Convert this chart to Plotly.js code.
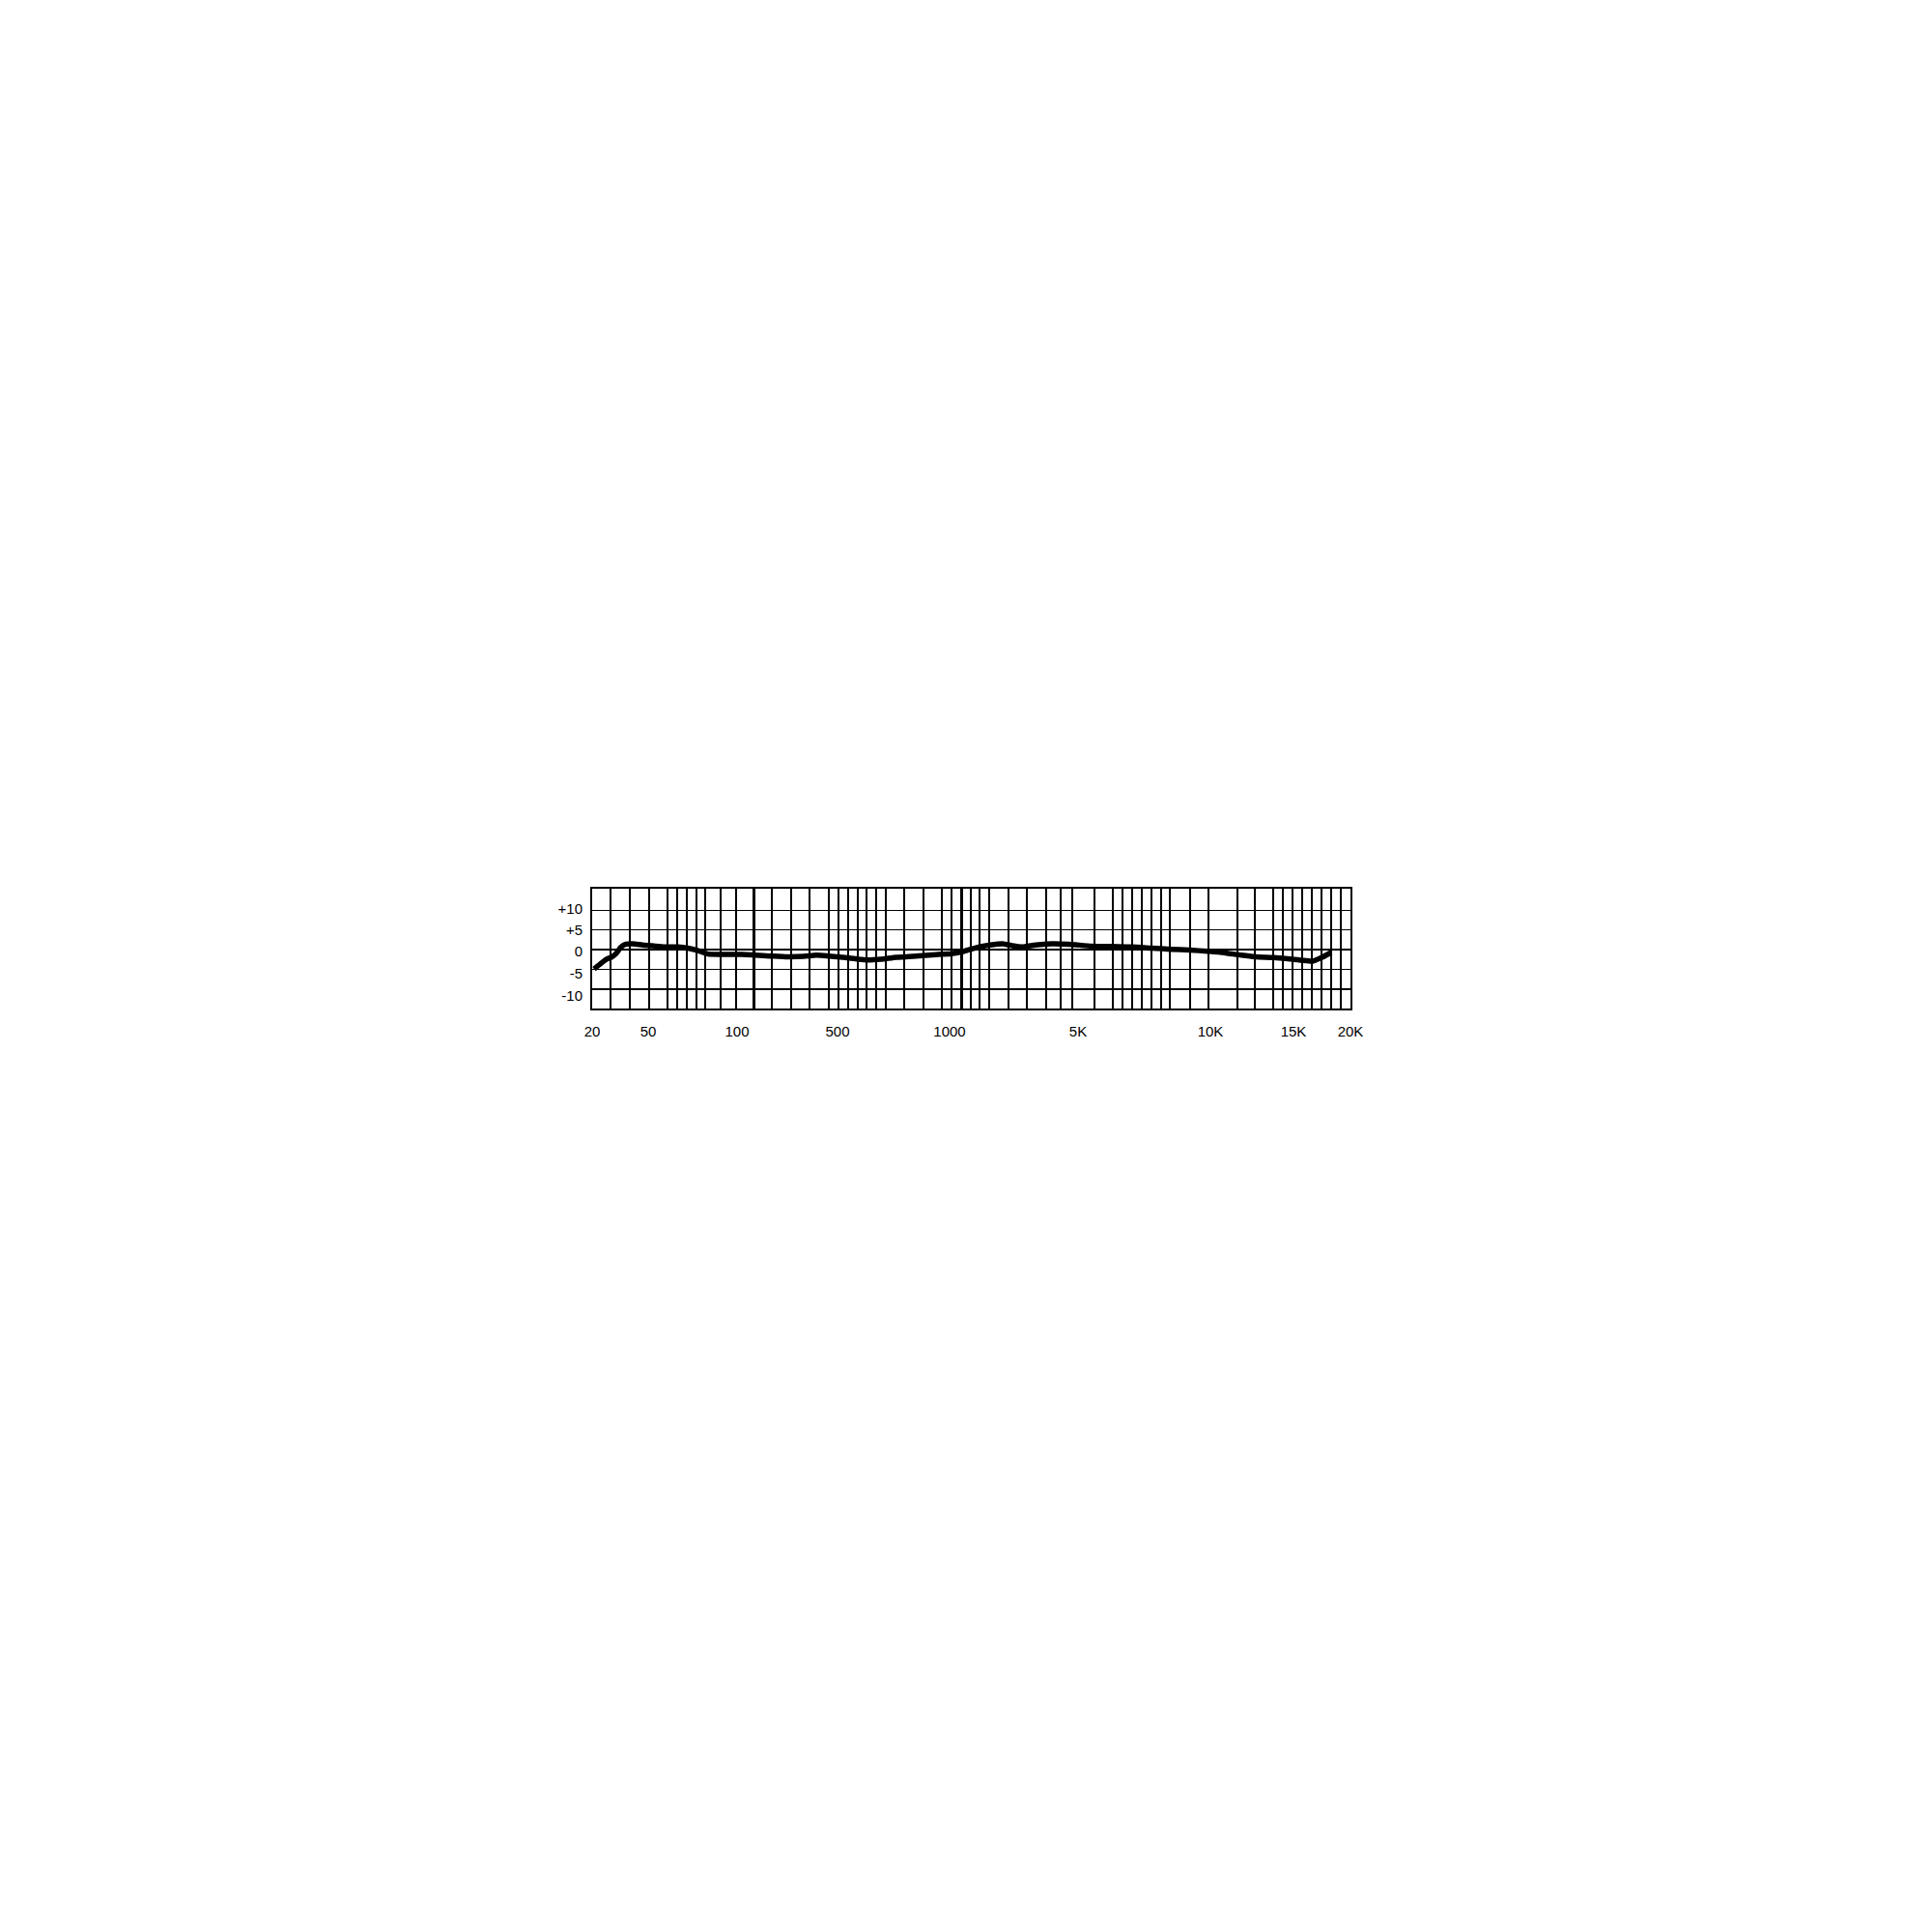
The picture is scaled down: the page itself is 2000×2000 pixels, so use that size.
<!DOCTYPE html>
<html>
<head>
<meta charset="utf-8">
<script src="https://cdn.plot.ly/plotly-3.0.1.min.js"></script>
<style>
  html, body { margin: 0; padding: 0; background: #fff; }
  #chart { width: 2000px; height: 2000px; }
</style>
</head>
<body>
<div id="chart"></div>
<script>
// frequency response, x in chart grid units (the printed grid is not a true log scale)
var freq_labels = ['20', '50', '100', '500', '1000', '5K', '10K', '15K', '20K'];
var freq_label_pos = [0, 58, 150, 254, 370, 503, 640, 726, 785];

// vertical rulings of the printed grid
var grid_x = [19, 39, 59, 78, 88, 98, 108, 117, 133, 149, 186, 206, 225, 245, 255, 265, 275, 284, 294, 304,
	323, 343, 362, 372, 392, 401, 411, 431, 450, 470, 485, 497, 520, 539, 549, 559, 569, 579, 589, 598,
	619, 638, 668, 686, 705, 715, 725, 735, 745, 755, 765, 775];
var grid_x_heavy = [167, 382];

var db_grid = [-10, -5, 0, 5, 10];
var db_labels = ['+10', '+5', '0', '-5', '-10'];
var db_label_pos = [10.4, 4.9, -0.4, -6.0, -11.6];

var response_x = [2, 9, 15, 20, 25, 30, 35, 42, 52, 62, 75, 89, 99, 109, 120, 132, 155, 185, 202, 219,
	232, 245, 262, 275, 285, 299, 315, 332, 352, 372, 385, 399, 412, 425, 435, 445, 459, 475, 493, 517,
	539, 559, 579, 599, 619, 637, 652, 672, 687, 705, 725, 735, 746, 755, 765];
var response_db = [-4.9, -3.5, -2.4, -1.9, -0.9, 0.7, 1.4, 1.5, 1.2, 1.0, 0.7, 0.7, 0.4, -0.2, -1.1, -1.2, -1.2, -1.6, -1.8, -1.7,
	-1.4, -1.6, -2.0, -2.4, -2.6, -2.4, -1.9, -1.7, -1.3, -1.0, -0.4, 0.6, 1.2, 1.5, 1.0, 0.7, 1.2, 1.5, 1.4, 0.9,
	0.8, 0.7, 0.4, 0.1, -0.1, -0.4, -0.7, -1.4, -1.8, -2.0, -2.4, -2.7, -2.9, -2.0, -0.7];

var x_range = [0, 785];
var y_range = [-14.9, 15.45];
var label_font = { family: 'Liberation Sans, Arial, sans-serif', size: 15, color: '#000' };

var response = {
	x: response_x,
	y: response_db,
	type: 'scatter',
	mode: 'lines',
	line: { color: '#000', width: 5.5, shape: 'spline', smoothing: 0.5 },
	hoverinfo: 'skip',
	showlegend: false
};

// invisible copies so the label axis and the heavy-ruling axis get drawn
var label_holder = {
	x: response_x,
	y: response_db,
	xaxis: 'x2',
	yaxis: 'y2',
	type: 'scatter',
	mode: 'lines',
	line: { color: 'rgba(0,0,0,0)', width: 0 },
	hoverinfo: 'skip',
	showlegend: false
};
var heavy_holder = {
	x: response_x,
	y: response_db,
	xaxis: 'x3',
	yaxis: 'y',
	type: 'scatter',
	mode: 'lines',
	line: { color: 'rgba(0,0,0,0)', width: 0 },
	hoverinfo: 'skip',
	showlegend: false
};

var layout = {
	width: 2000,
	height: 2000,
	margin: { l: 613, r: 602, t: 920, b: 956 },
	paper_bgcolor: '#fff',
	plot_bgcolor: '#fff',
	showlegend: false,
	xaxis: {
		range: x_range,
		tickmode: 'array',
		tickvals: grid_x,
		showticklabels: false,
		ticks: '',
		showgrid: true,
		gridcolor: '#000',
		gridwidth: 1.4,
		zeroline: false,
		showline: true,
		mirror: true,
		linecolor: '#000',
		linewidth: 1.6,
		fixedrange: true
	},
	xaxis2: {
		overlaying: 'x',
		anchor: 'y2',
		side: 'bottom',
		range: x_range,
		tickmode: 'array',
		tickvals: freq_label_pos,
		ticktext: freq_labels,
		tickfont: label_font,
		ticks: 'outside',
		ticklen: 10,
		tickcolor: 'rgba(0,0,0,0)',
		showgrid: false,
		zeroline: false,
		showline: false,
		fixedrange: true
	},
	xaxis3: {
		overlaying: 'x',
		anchor: 'y',
		range: x_range,
		tickmode: 'array',
		tickvals: grid_x_heavy,
		showticklabels: false,
		ticks: '',
		showgrid: true,
		gridcolor: '#000',
		gridwidth: 3,
		zeroline: false,
		showline: false,
		fixedrange: true
	},
	yaxis: {
		range: y_range,
		tickmode: 'array',
		tickvals: db_grid,
		showticklabels: false,
		ticks: '',
		showgrid: true,
		gridcolor: '#000',
		gridwidth: 1.4,
		zeroline: false,
		showline: true,
		mirror: true,
		linecolor: '#000',
		linewidth: 1.6,
		fixedrange: true
	},
	yaxis2: {
		overlaying: 'y',
		anchor: 'x2',
		side: 'left',
		range: y_range,
		tickmode: 'array',
		tickvals: db_label_pos,
		ticktext: db_labels,
		tickfont: label_font,
		ticks: 'outside',
		ticklen: 6,
		tickcolor: 'rgba(0,0,0,0)',
		showgrid: false,
		zeroline: false,
		showline: false,
		fixedrange: true
	}
};

Plotly.newPlot('chart', [response, label_holder, heavy_holder], layout, { staticPlot: true, displayModeBar: false });
</script>
</body>
</html>
